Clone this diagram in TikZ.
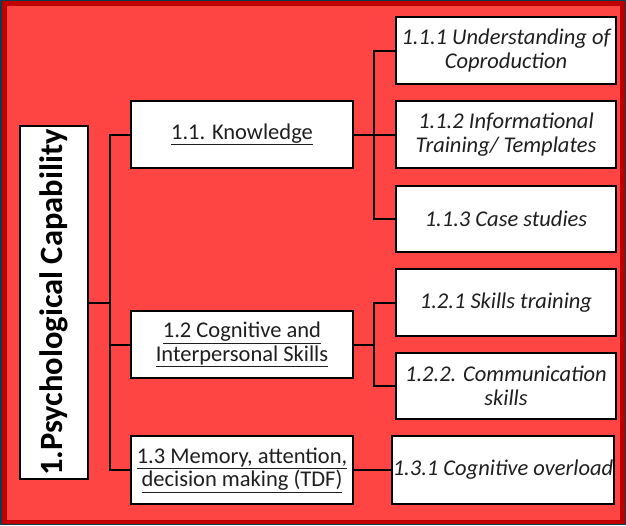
\documentclass[tikz,border=0pt]{standalone}
\usepackage{fontspec}
\setmainfont{Carlito}
\begin{document}
\begin{tikzpicture}[x=1pt,y=-1pt,
  box/.style={draw=black,line width=2pt,fill=white,inner sep=0pt,
    minimum width=220pt,minimum height=67pt,align=center,
    font=\fontsize{22.5}{23.5}\selectfont,text=black!88},
  leaf/.style={box,font=\fontsize{22.5}{23.5}\selectfont\itshape},
  link/.style={draw=black,line width=2pt}]
  \useasboundingbox (0,0) rectangle (626,525);
  % frame and background
  \fill[fill={rgb,255:red,16;green,60;blue,80}] (0,0) rectangle (626,525);
  \fill[fill={rgb,255:red,192;green,0;blue,0}] (1.5,1) rectangle (625,524);
  \fill[fill={rgb,255:red,255;green,68;blue,68}] (7,6) rectangle (620,520);

  % root
  \node[box,minimum width=68pt,minimum height=353pt] (root) at (54,302.5)
    {\rotatebox{90}{\fontsize{32.5}{34}\selectfont\bfseries\color{black}1.Psychological Capability}};

  % second level
  \node[box,minimum width=222pt] (k1) at (242,134.5) {\underline{1.1. Knowledge}};
  \node[box,minimum width=222pt] (k2) at (242,344.5)
    {\underline{1.2 Cognitive and}\\\underline{Interpersonal Skills}};
  \node[box,minimum width=222pt,minimum height=68pt] (k3) at (242,470)
    {\underline{1.3 Memory, attention,}\\\underline{decision making (TDF)}};

  % third level
  \node[leaf] (a1) at (506,50.5) {1.1.1 Understanding of\\Coproduction};
  \node[leaf] (a2) at (506,134.5) {1.1.2 Informational\\Training/ Templates};
  \node[leaf,minimum height=66pt] (a3) at (506,219) {1.1.3 Case studies};
  \node[leaf] (b1) at (506,302.5) {1.2.1 Skills training};
  \node[leaf,minimum height=66pt] (b2) at (506,386) {1.2.2. Communication\\skills};
  \node[leaf,minimum width=222pt,minimum height=68pt] (c1) at (503,470) {1.3.1 Cognitive overload};

  % trunk positions
  \coordinate (tA) at (110,0);
  \coordinate (tB) at (374,0);

  % root to second level
  \draw[link] (root.east) -- (root.east -| tA);
  \draw[link] (k1.west) -- (k1.west -| tA) -- (k3.west -| tA) -- (k3.west);
  \draw[link] (k2.west) -- (k2.west -| tA);

  % knowledge branch
  \draw[link] (k1.east) -- (a2.west);
  \draw[link] (a1.west) -- (a1.west -| tB) -- (a3.west -| tB) -- (a3.west);

  % skills branch
  \draw[link] (k2.east) -- (k2.east -| tB);
  \draw[link] (b1.west) -- (b1.west -| tB) -- (b2.west -| tB) -- (b2.west);

  % memory branch
  \draw[link] (k3.east) -- (c1.west);
\end{tikzpicture}
\end{document}
